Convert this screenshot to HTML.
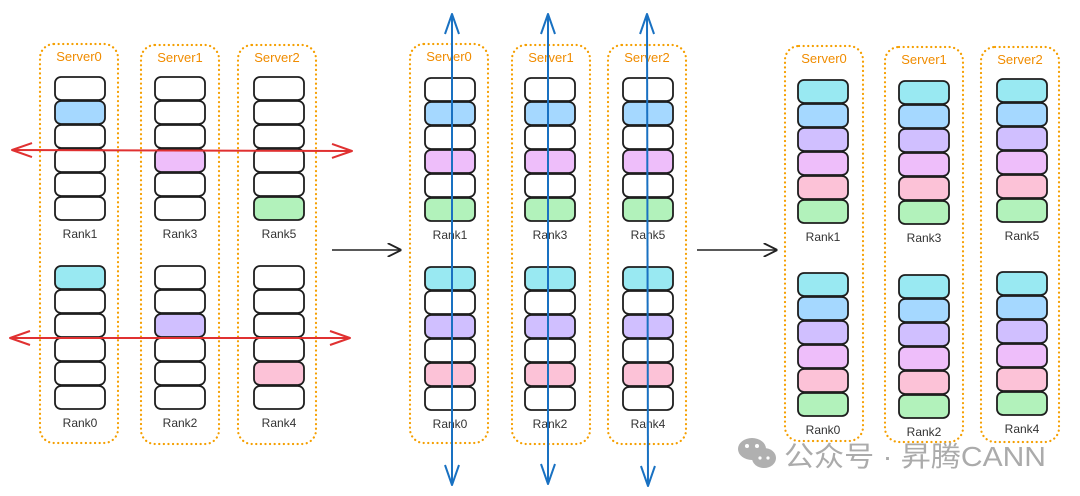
<!DOCTYPE html>
<html><head><meta charset="utf-8"><style>
html,body{margin:0;padding:0;background:#fff;width:1080px;height:496px;overflow:hidden}
svg{display:block}
</style></head><body>
<svg id="s" width="1080" height="496" xmlns="http://www.w3.org/2000/svg" font-family="Liberation Sans, Noto Sans CJK SC, sans-serif">
<defs>
<marker id="ar" viewBox="0 0 10 10" refX="9" refY="5" markerWidth="14" markerHeight="14" markerUnits="userSpaceOnUse" orient="auto"><path d="M0,0 L10,5 L0,10" fill="none" stroke="#222" stroke-width="1.3"/></marker>
</defs>
<g id="g"></g>
</svg>
<script>
const g=document.getElementById('g');let h='';
const C={w:'#ffffff',b:'#a5d8ff',v:'#eebefa',gr:'#b2f2bb',c:'#99e9f2',p:'#d0bfff',r:'#fcc2d7'};
function box(x,y,w,hh){h+=`<rect x="${x}" y="${y}" width="${w}" height="${hh}" rx="14" fill="none" stroke="#f59f00" stroke-width="2.2" stroke-dasharray="0.1 4.5" stroke-linecap="round"/>`;}
function stack(x,y,cols,lab){for(let i=0;i<6;i++){h+=`<rect x="${x}" y="${y+i*24}" width="50" height="23" rx="6" fill="${C[cols[i]]}" stroke="#1e1e1e" stroke-width="1.8"/>`;}
h+=`<text x="${x+25}" y="${y+161}" font-size="12" fill="#333" text-anchor="middle">${lab}</text>`;}
function srv(x,y,w,hh,lab){box(x,y,w,hh);h+=`<text x="${x+w/2}" y="${y+17}" font-size="13" fill="#f08c00" text-anchor="middle">${lab}</text>`;}
const P1=[[40,44,55,'Server0','Rank1','Rank0',['w','b','w','w','w','w'],['c','w','w','w','w','w']],
[141,45,155,'Server1','Rank3','Rank2',['w','w','w','v','w','w'],['w','w','p','w','w','w']],
[238,45,254,'Server2','Rank5','Rank4',['w','w','w','w','w','gr'],['w','w','w','w','r','w']]];
const full=['c','b','p','v','r','gr'];
P1.forEach(s=>{srv(s[0],s[1],78,399,s[3]);stack(s[2],77,s[6],s[4]);stack(s[2],266,s[7],s[5]);});
const P2=[[410,44,425,'Server0','Rank1','Rank0'],[512,45,525,'Server1','Rank3','Rank2'],[608,45,623,'Server2','Rank5','Rank4']];
P2.forEach(s=>{srv(s[0],s[1],78,399,s[3]);stack(s[2],78,['w','b','w','v','w','gr'],s[4]);stack(s[2],267,['c','w','p','w','r','w'],s[5]);});
const P3=[[785,46,798,80,273,'Server0','Rank1','Rank0'],[885,47,899,81,275,'Server1','Rank3','Rank2'],[981,47,997,79,272,'Server2','Rank5','Rank4']];
P3.forEach(s=>{srv(s[0],s[1],78,395,s[5]);stack(s[2],s[3],full,s[6]);stack(s[2],s[4],full,s[7]);});
function dbl(x1,y1,x2,y2,col){h+=`<line x1="${x1}" y1="${y1}" x2="${x2}" y2="${y2}" stroke="${col}" stroke-width="2"/>`;
const dx=x2-x1,dy=y2-y1,L=Math.hypot(dx,dy),ux=dx/L,uy=dy/L,px=-uy,py=ux,a=20,b=7;
[[x1,y1,1],[x2,y2,-1]].forEach(([x,y,sg])=>{h+=`<polyline points="${x+sg*ux*a+px*b},${y+sg*uy*a+py*b} ${x},${y} ${x+sg*ux*a-px*b},${y+sg*uy*a-py*b}" fill="none" stroke="${col}" stroke-width="2" stroke-linejoin="round"/>`;});}
dbl(12,150,352,151,'#e03131');dbl(10,338,350,338,'#e03131');
dbl(452,14,452,485,'#1971c2');dbl(548,14,548,484,'#1971c2');dbl(647,14,648,486,'#1971c2');
h+=`<line x1="332" y1="250" x2="400" y2="250" stroke="#222" stroke-width="1.5" marker-end="url(#ar)"/>`;
h+=`<line x1="697" y1="250" x2="776" y2="250" stroke="#222" stroke-width="1.5" marker-end="url(#ar)"/>`;
h+=`<g fill="#b0b0b0"><ellipse cx="752" cy="449" rx="14" ry="11"/><ellipse cx="764" cy="458" rx="12" ry="10"/></g>`;
h+=`<circle cx="747" cy="446" r="2" fill="#fff"/><circle cx="757" cy="446" r="2" fill="#fff"/><circle cx="760" cy="458" r="1.6" fill="#fff"/><circle cx="768" cy="458" r="1.6" fill="#fff"/>`;
h+=`<text x="784" y="466" font-size="28" fill="#ababab" textLength="262" lengthAdjust="spacingAndGlyphs" font-family="Liberation Sans, Noto Sans CJK SC, sans-serif">公众号 · 昇腾CANN</text>`;
g.innerHTML=h;
</script>
</body></html>
